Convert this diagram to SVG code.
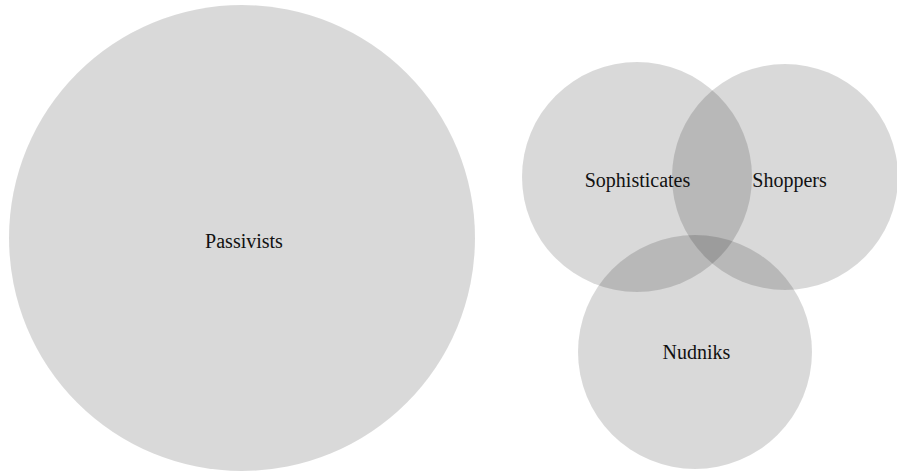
<svg xmlns="http://www.w3.org/2000/svg" width="897" height="474" viewBox="0 0 897 474">
<style>
.set{fill:#000;fill-opacity:0.15;stroke:none}
.lbl{font-family:"Liberation Serif","Times New Roman",serif;font-size:20px;fill:#111;text-anchor:middle}
</style>
<rect width="897" height="474" fill="#fff"/>
<g id="passivists"><circle class="set" cx="242" cy="238" r="233"/><text class="lbl" x="244" y="248">Passivists</text></g>
<g id="sophisticates"><circle class="set" cx="637" cy="177" r="115"/></g>
<g id="shoppers"><circle class="set" cx="785" cy="177" r="113"/></g>
<g id="nudniks"><circle class="set" cx="695" cy="352" r="117"/></g>
<g id="labels">
<text class="lbl" x="637.5" y="187">Sophisticates</text>
<text class="lbl" x="789.5" y="187">Shoppers</text>
<text class="lbl" x="696.5" y="359">Nudniks</text>
</g>
<g id="connectors"/>
</svg>
